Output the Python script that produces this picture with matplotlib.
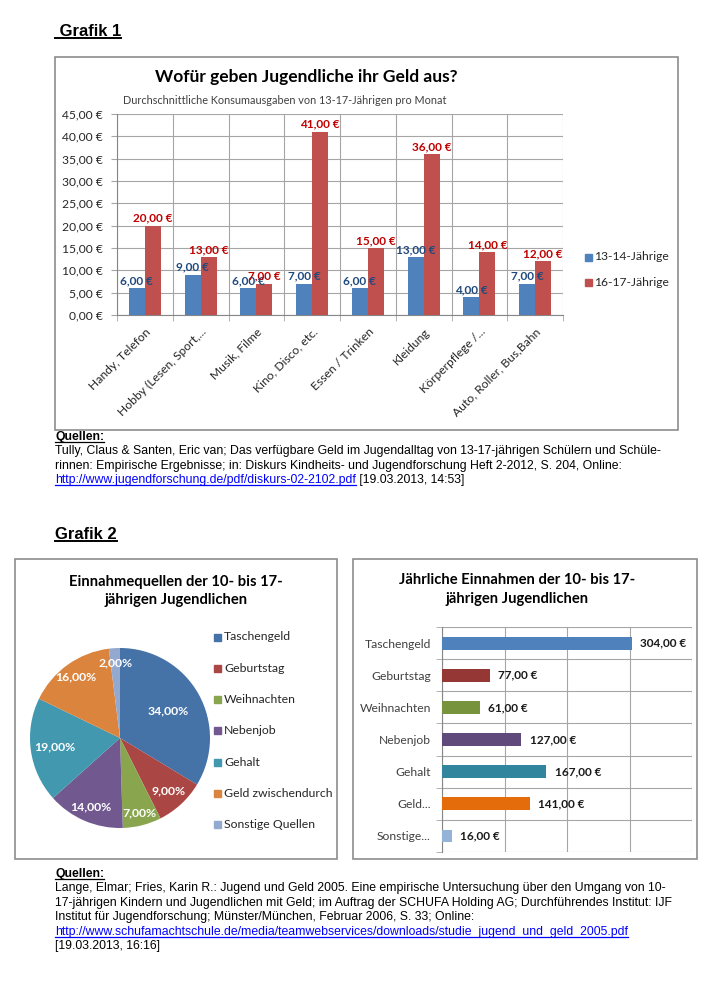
import matplotlib
matplotlib.use("Agg")
import matplotlib.pyplot as plt
from matplotlib.lines import Line2D
from matplotlib.patches import Rectangle
import numpy as np

W, H = 717, 1000
CHART_FONT = ["Lato", "DejaVu Sans"]
DOC_FONT = ["Liberation Sans", "DejaVu Sans"]

# Grafik 1: monthly spending
spend_categories = [
    "Handy, Telefon",
    "Hobby (Lesen, Sport,...",
    "Musik, Filme",
    "Kino, Disco, etc.",
    "Essen / Trinken",
    "Kleidung",
    "Körperpflege /...",
    "Auto, Roller, Bus,Bahn",
]
spend_13_14 = [6, 9, 6, 7, 6, 13, 4, 7]
spend_16_17 = [20, 13, 7, 41, 15, 36, 14, 12]
series_names = ["13-14-Jährige", "16-17-Jährige"]
y_ticks = [0, 5, 10, 15, 20, 25, 30, 35, 40, 45]

# Grafik 2: income sources
income_sources = ["Taschengeld", "Geburtstag", "Weihnachten", "Nebenjob",
                  "Gehalt", "Geld zwischendurch", "Sonstige Quellen"]
income_short = ["Taschengeld", "Geburtstag", "Weihnachten", "Nebenjob",
                "Gehalt", "Geld...", "Sonstige..."]
income_share = [34, 9, 7, 14, 19, 16, 2]
income_yearly = [304, 77, 61, 127, 167, 141, 16]

quellen_1 = [
    "Tully, Claus & Santen, Eric van; Das verfügbare Geld im Jugendalltag von 13-17-jährigen Schülern und Schüle-",
    "rinnen: Empirische Ergebnisse; in: Diskurs Kindheits- und Jugendforschung Heft 2-2012, S. 204, Online:",
]
url_1 = "http://www.jugendforschung.de/pdf/diskurs-02-2102.pdf"
date_1 = " [19.03.2013, 14:53]"
quellen_2 = [
    "Lange, Elmar; Fries, Karin R.: Jugend und Geld 2005. Eine empirische Untersuchung über den Umgang von 10-",
    "17-jährigen Kindern und Jugendlichen mit Geld; im Auftrag der SCHUFA Holding AG; Durchführendes Institut: IJF",
    "Institut für Jugendforschung; Münster/München, Februar 2006, S. 33; Online:",
]
url_2 = "http://www.schufamachtschule.de/media/teamwebservices/downloads/studie_jugend_und_geld_2005.pdf"
date_2 = "[19.03.2013, 16:16]"

PIE_COLORS = ["#4572A7", "#AA4643", "#89A54E", "#71588F", "#4198AF", "#DB843D", "#93A9CF"]
BAR_COLORS = ["#4F81BD", "#953735", "#77933C", "#604A7B", "#31859C", "#E46C0A", "#95B3D7"]
PIE_LABEL_DIST = [0.61, 0.8, 0.86, 0.83, 0.73, 0.84, 0.84]
GRID = "#a6a6a6"
BOX = "#8c8c8c"
DOC_SIZE = 8.8


def euro(v):
    return f"{v:.2f} €".replace(".", ",")


fig = plt.figure(figsize=(W / 100, H / 100), dpi=100)


def frect(x0, y0, x1, y1):
    return [x0 / W, 1 - y1 / H, (x1 - x0) / W, (y1 - y0) / H]


def ftext(x, y, s, **kw):
    return fig.text(x / W, 1 - y / H, s, **kw)


def fbox(x0, y0, x1, y1):
    fig.add_artist(Rectangle((x0 / W, 1 - y1 / H), (x1 - x0) / W, (y1 - y0) / H,
                             transform=fig.transFigure, fill=False,
                             edgecolor=BOX, linewidth=1.2))


def fsquare(x, y, color, size=7):
    fig.add_artist(Rectangle(((x - size / 2) / W, 1 - (y + size / 2) / H), size / W, size / H,
                             transform=fig.transFigure, color=color))


# ---------- Grafik 1 ----------
fbox(55, 57, 678, 430)
ax1 = fig.add_axes(frect(117, 114, 563, 315))
x = np.arange(len(spend_categories))
bw = 0.285
b1 = ax1.bar(x - bw / 2, spend_13_14, bw, color="#4F81BD", zorder=3)
b2 = ax1.bar(x + bw / 2, spend_16_17, bw, color="#C0504D", zorder=3)
ax1.set_xlim(-0.5, len(x) - 0.5)
ax1.set_ylim(0, 45)
ax1.set_yticks(y_ticks)
ax1.set_yticklabels([euro(v) for v in y_ticks], fontsize=8.7, family=CHART_FONT, color="#262626")
ax1.set_xticks(x)
ax1.set_xticklabels(spend_categories, rotation=45, ha="right", rotation_mode="anchor",
                    fontsize=8.7, family=CHART_FONT, color="#262626")
ax1.set_xticks(np.arange(-0.5, len(x)), minor=True)
ax1.yaxis.grid(True, color=GRID, lw=0.8, zorder=0)
ax1.xaxis.grid(True, which="minor", color=GRID, lw=0.8, zorder=0)
ax1.tick_params(axis="x", which="major", length=0, pad=8)
ax1.tick_params(axis="x", which="minor", length=4, color=GRID)
ax1.tick_params(axis="y", length=4, color=GRID, pad=6)
for side in ["top", "right"]:
    ax1.spines[side].set_visible(False)
for side in ["left", "bottom"]:
    ax1.spines[side].set_color("#868686")
ax1.set_axisbelow(True)
ax1.bar_label(b1, labels=[euro(v) for v in spend_13_14], padding=1.5, fontsize=8.5,
              family=CHART_FONT, color="#1F497D", weight="bold")
ax1.bar_label(b2, labels=[euro(v) for v in spend_16_17], padding=1.5, fontsize=8.5,
              family=CHART_FONT, color="#C00000", weight="bold")

ftext(306, 77, "Wofür geben Jugendliche ihr Geld aus?", ha="center", va="center",
      fontsize=12.5, weight="bold", family=CHART_FONT)
ftext(285, 100, "Durchschnittliche Konsumausgaben von 13-17-Jährigen pro Monat",
      ha="center", va="center", fontsize=7.8, family=CHART_FONT, color="#404040")
for i, (name, col) in enumerate(zip(series_names, ["#4F81BD", "#C0504D"])):
    fsquare(588, 257 + 25 * i, col)
    ftext(594, 257 + 25 * i, name, va="center", fontsize=8.7, family=CHART_FONT, color="#262626")

# ---------- Grafik 2: pie ----------
fbox(15, 559, 337, 859)
ax2 = fig.add_axes(frect(30, 648, 210, 828))
wedges, _ = ax2.pie(income_share, colors=PIE_COLORS, startangle=90, counterclock=False,
                    radius=1, wedgeprops=dict(linewidth=0))
ax2.set_xlim(-1, 1)
ax2.set_ylim(-1, 1)
ax2.set_aspect("equal")
for w, d, v in zip(wedges, PIE_LABEL_DIST, income_share):
    ang = np.deg2rad((w.theta1 + w.theta2) / 2)
    ax2.text(d * np.cos(ang), d * np.sin(ang), f"{v:.2f}%".replace(".", ","),
             ha="center", va="center", color="white", fontsize=8.8, weight="bold",
             family=CHART_FONT)
ftext(176, 582, "Einnahmequellen der 10- bis 17-", ha="center", va="center",
      fontsize=10.6, weight="bold", family=CHART_FONT)
ftext(176, 600, "jährigen Jugendlichen", ha="center", va="center",
      fontsize=10.6, weight="bold", family=CHART_FONT)
for i, (name, col) in enumerate(zip(income_sources, PIE_COLORS)):
    yy = 637 + 31.3 * i
    fsquare(217, yy, col)
    ftext(224, yy, name, va="center", fontsize=8.8, family=CHART_FONT, color="#262626")

# ---------- Grafik 2: bars ----------
fbox(353, 559, 697, 859)
ax3 = fig.add_axes(frect(442, 627, 692, 852))
yy = np.arange(len(income_short))
b3 = ax3.barh(yy, income_yearly, height=0.4, color=BAR_COLORS, zorder=3)
ax3.set_xlim(0, 400)
ax3.set_ylim(len(yy) - 0.5, -0.5)
ax3.set_xticks(np.arange(0, 401, 100))
ax3.set_xticklabels([])
ax3.tick_params(axis="x", length=0)
ax3.set_yticks(yy)
ax3.set_yticklabels(income_short, fontsize=8.7, family=CHART_FONT, color="#404040")
ax3.set_yticks(np.arange(-0.5, len(yy)), minor=True)
ax3.tick_params(axis="y", which="major", length=0, pad=8)
ax3.tick_params(axis="y", which="minor", length=4, color=GRID)
ax3.xaxis.grid(True, color=GRID, lw=0.8, zorder=0)
ax3.yaxis.grid(True, which="minor", color=GRID, lw=0.8, zorder=0)
for side in ["top", "right", "bottom"]:
    ax3.spines[side].set_visible(False)
ax3.spines["left"].set_color("#868686")
ax3.set_axisbelow(True)
ax3.bar_label(b3, labels=[euro(v) for v in income_yearly], padding=6, fontsize=8.5,
              weight="bold", family=CHART_FONT, color="#1a1a1a")
ftext(517, 580, "Jährliche Einnahmen der 10- bis 17-", ha="center", va="center",
      fontsize=10.6, weight="bold", family=CHART_FONT)
ftext(517, 599, "jährigen Jugendlichen", ha="center", va="center",
      fontsize=10.6, weight="bold", family=CHART_FONT)

# ---------- document text ----------
renderer = fig.canvas.get_renderer()
underlined = []

t = ftext(55, 36, " Grafik 1", fontsize=12, weight="bold", family=DOC_FONT, va="baseline")
underlined.append((t, "black", 1.4))
t = ftext(55, 539, "Grafik 2", fontsize=12, weight="bold", family=DOC_FONT, va="baseline")
underlined.append((t, "black", 1.4))


def quellen_block(y0, lines, url, date, date_newline):
    step = 14.4
    t = ftext(55, y0, "Quellen:", fontsize=DOC_SIZE, weight="bold", family=DOC_FONT, va="baseline")
    underlined.append((t, "black", 0.9))
    y = y0
    for line in lines:
        y += step
        ftext(55, y, line, fontsize=DOC_SIZE, family=DOC_FONT, va="baseline")
    y += step
    tu = ftext(55, y, url, fontsize=DOC_SIZE, family=DOC_FONT, va="baseline", color="#0000FF")
    underlined.append((tu, "#0000FF", 0.9))
    if date_newline:
        ftext(55, y + step, date, fontsize=DOC_SIZE, family=DOC_FONT, va="baseline")
    else:
        bb = tu.get_window_extent(renderer=renderer)
        fig.text(bb.x1 / W, 1 - y / H, date, fontsize=DOC_SIZE, family=DOC_FONT, va="baseline")


quellen_block(440, quellen_1, url_1, date_1, False)
quellen_block(877, quellen_2, url_2, date_2, True)

for t, col, lw in underlined:
    bb = t.get_window_extent(renderer=renderer)
    _, yb = t.get_transform().transform(t.get_position())
    yl = yb - 2
    fig.add_artist(Line2D([bb.x0 / W, bb.x1 / W], [yl / H, yl / H], transform=fig.transFigure,
                          color=col, lw=lw))

fig.savefig("out.png", dpi=100)
